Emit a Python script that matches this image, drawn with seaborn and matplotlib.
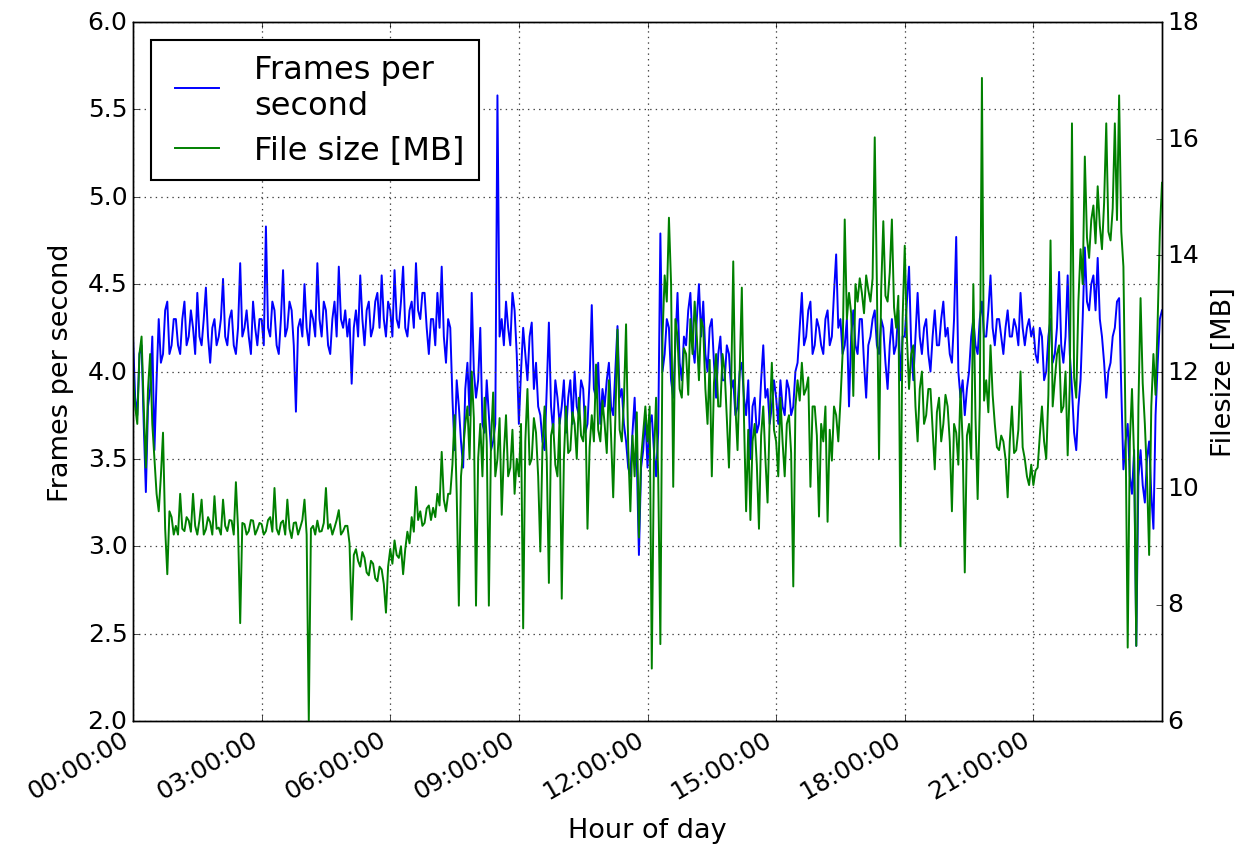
import numpy as np
import matplotlib
matplotlib.use("Agg")
import matplotlib.pyplot as plt
import seaborn as sns

plt.style.use("classic")
plt.rcParams["font.family"] = "DejaVu Sans"
plt.rcParams["axes.xmargin"] = 0

# one sample every 3 minutes, one row per hour of the day
sample_step_h = 0.05

fps = [
    4.20, 3.85, 3.75, 4.10, 4.15, 3.70, 3.31, 3.80, 3.90, 4.20, 3.55, 3.95, 4.30, 4.05, 4.10, 4.35, 4.40, 4.10, 4.15, 4.30,
    4.30, 4.15, 4.10, 4.30, 4.40, 4.15, 4.20, 4.35, 4.25, 4.10, 4.45, 4.20, 4.15, 4.30, 4.48, 4.20, 4.05, 4.25, 4.30, 4.15,
    4.20, 4.30, 4.53, 4.20, 4.15, 4.30, 4.35, 4.15, 4.10, 4.25, 4.62, 4.20, 4.25, 4.35, 4.20, 4.10, 4.40, 4.25, 4.15, 4.30,
    4.30, 4.15, 4.83, 4.25, 4.20, 4.40, 4.35, 4.15, 4.10, 4.30, 4.58, 4.20, 4.25, 4.40, 4.35, 4.15, 3.77, 4.25, 4.30, 4.20,
    4.50, 4.25, 4.15, 4.35, 4.30, 4.20, 4.62, 4.30, 4.20, 4.40, 4.35, 4.15, 4.10, 4.30, 4.40, 4.20, 4.60, 4.30, 4.25, 4.35,
    4.20, 4.30, 3.93, 4.25, 4.35, 4.20, 4.55, 4.30, 4.15, 4.35, 4.40, 4.20, 4.25, 4.40, 4.45, 4.25, 4.55, 4.30, 4.20, 4.40,
    4.35, 4.20, 4.58, 4.30, 4.25, 4.40, 4.60, 4.25, 4.20, 4.35, 4.40, 4.25, 4.62, 4.35, 4.30, 4.45, 4.45, 4.25, 4.10, 4.30,
    4.30, 4.15, 4.45, 4.25, 4.60, 4.20, 4.05, 4.30, 4.25, 3.85, 3.55, 3.95, 3.80, 3.60, 3.45, 3.90, 4.05, 3.75, 4.45, 4.00,
    3.85, 3.95, 4.25, 3.70, 3.65, 3.95, 3.75, 3.55, 3.60, 3.70, 5.58, 4.20, 4.30, 4.15, 4.40, 4.25, 4.15, 4.45, 4.35, 4.10,
    3.70, 4.00, 4.25, 4.10, 3.95, 4.20, 4.28, 3.90, 4.05, 3.80, 3.75, 3.60, 3.55, 3.90, 4.28, 3.80, 3.65, 3.95, 3.85, 3.70,
    3.80, 3.95, 3.65, 3.85, 3.95, 3.70, 4.00, 3.80, 3.75, 3.95, 3.90, 3.65, 3.70, 3.95, 4.38, 3.90, 3.85, 4.05, 3.70, 3.90,
    3.80, 3.95, 4.05, 3.80, 3.75, 4.00, 4.26, 3.85, 3.90, 3.70, 3.60, 3.45, 3.40, 3.65, 3.85, 3.50, 2.95, 3.45, 3.55, 3.75,
    3.45, 3.70, 3.75, 3.55, 3.40, 3.65, 4.79, 4.00, 4.10, 4.30, 4.25, 3.95, 3.85, 4.15, 4.45, 4.05, 3.95, 4.20, 4.15, 4.35,
    4.45, 4.15, 4.05, 4.30, 4.50, 4.20, 4.40, 4.10, 4.00, 4.25, 4.30, 4.05, 3.85, 4.10, 4.20, 3.95, 3.95, 4.15, 4.10, 3.90,
    3.95, 3.75, 3.80, 4.00, 4.05, 3.85, 3.75, 3.95, 3.50, 3.80, 3.85, 3.65, 3.70, 3.95, 4.15, 3.85, 3.90, 3.70, 3.80, 3.95,
    3.85, 3.70, 3.95, 3.80, 3.75, 3.95, 3.90, 3.75, 3.80, 4.00, 4.05, 4.25, 4.45, 4.15, 4.20, 4.35, 4.40, 4.10, 4.15, 4.30,
    4.25, 4.15, 4.10, 4.30, 4.35, 4.15, 4.20, 4.45, 4.67, 4.25, 4.30, 4.10, 4.15, 4.30, 3.80, 4.20, 4.35, 4.15, 4.10, 4.30,
    4.30, 4.05, 3.85, 4.15, 4.20, 4.30, 4.35, 4.15, 4.10, 4.30, 4.25, 4.05, 3.90, 4.15, 4.30, 4.10, 4.15, 4.35, 3.95, 4.20,
    4.20, 4.40, 4.60, 4.15, 3.95, 4.20, 4.45, 4.20, 4.10, 4.25, 4.30, 4.10, 4.00, 4.20, 4.35, 4.15, 4.15, 4.30, 4.40, 4.20,
    4.25, 4.10, 4.05, 4.30, 4.77, 4.00, 3.85, 3.95, 3.75, 3.90, 4.00, 4.20, 4.30, 4.15, 4.10, 4.30, 4.40, 4.20, 4.20, 4.35,
    4.55, 4.25, 4.15, 4.30, 4.30, 4.20, 4.10, 4.25, 4.35, 4.20, 4.20, 4.30, 4.25, 4.15, 4.45, 4.25, 4.15, 4.25, 4.30, 4.20,
    4.25, 4.10, 4.05, 4.25, 4.20, 3.95, 4.00, 4.20, 4.30, 4.05, 4.10, 4.25, 4.57, 4.15, 4.05, 4.20, 4.55, 4.10, 3.90, 3.65,
    3.55, 3.80, 3.95, 4.30, 4.71, 4.40, 4.35, 4.50, 4.55, 4.35, 4.65, 4.30, 4.20, 4.05, 3.85, 4.00, 4.05, 4.20, 4.25, 4.40,
    4.42, 3.90, 3.44, 3.60, 3.70, 3.40, 3.30, 3.55, 2.43, 3.40, 3.55, 3.35, 3.25, 3.50, 3.60, 3.30, 3.10, 3.75, 4.05, 4.30,
    4.35,
]

filesize_mb = [
    12.00, 11.40, 11.10, 12.30, 12.60, 11.40, 10.35, 11.70, 12.30, 11.10, 10.50, 9.90, 9.60, 10.20, 10.95, 9.30, 8.52, 9.60, 9.50, 9.20,
    9.35, 9.20, 9.90, 9.30, 9.26, 9.50, 9.44, 9.25, 9.90, 9.35, 9.20, 9.45, 9.80, 9.20, 9.29, 9.50, 9.41, 9.20, 9.86, 9.30,
    9.32, 9.20, 9.80, 9.35, 9.26, 9.45, 9.44, 9.20, 10.10, 9.30, 7.68, 9.40, 9.38, 9.20, 9.26, 9.45, 9.44, 9.20, 9.29, 9.40,
    9.38, 9.20, 9.26, 9.45, 9.50, 9.25, 10.00, 9.30, 9.20, 9.40, 9.44, 9.20, 9.80, 9.30, 9.14, 9.40, 9.41, 9.20, 9.32, 9.45,
    9.80, 9.20, 6.00, 9.30, 9.35, 9.20, 9.44, 9.25, 9.26, 9.40, 10.00, 9.30, 9.38, 9.20, 9.32, 9.45, 9.62, 9.20, 9.26, 9.35,
    9.35, 9.05, 7.74, 8.85, 8.95, 8.75, 8.65, 8.90, 8.80, 8.55, 8.50, 8.75, 8.70, 8.45, 8.40, 8.65, 8.60, 8.35, 7.86, 8.65,
    8.95, 8.70, 9.10, 8.85, 8.80, 9.00, 8.52, 8.95, 9.25, 9.05, 9.50, 9.25, 10.02, 9.45, 9.60, 9.35, 9.40, 9.65, 9.70, 9.45,
    9.66, 9.50, 9.90, 9.70, 10.62, 9.80, 9.60, 9.90, 9.90, 10.40, 11.25, 9.90, 7.98, 10.20, 10.65, 11.10, 11.40, 10.50, 12.00, 11.20,
    7.98, 10.50, 11.10, 10.20, 11.55, 10.80, 7.98, 10.80, 11.64, 10.20, 10.50, 11.20, 9.54, 10.60, 11.25, 10.20, 10.35, 11.00, 9.90, 10.50,
    10.20, 11.10, 7.59, 10.80, 11.70, 10.40, 10.50, 11.20, 10.95, 10.20, 8.91, 10.70, 11.40, 10.50, 8.37, 10.90, 11.10, 10.40, 10.20, 11.20,
    8.10, 10.50, 11.40, 10.60, 10.65, 11.30, 11.10, 10.50, 11.55, 10.90, 10.80, 11.40, 9.30, 10.70, 11.25, 10.80, 12.12, 11.00, 10.80, 11.50,
    11.10, 10.60, 11.85, 10.90, 9.84, 11.20, 12.72, 11.00, 10.80, 11.50, 12.81, 10.70, 9.60, 10.90, 10.20, 11.30, 9.15, 10.50, 10.95, 11.40,
    10.80, 11.40, 6.90, 10.50, 11.55, 10.20, 7.32, 12.60, 13.65, 13.20, 14.64, 13.50, 10.02, 12.90, 12.60, 11.70, 11.55, 12.40, 12.30, 11.60,
    12.90, 12.30, 13.20, 12.60, 11.85, 12.90, 12.75, 11.70, 11.10, 12.20, 10.20, 11.80, 12.30, 11.40, 11.40, 12.30, 12.00, 11.20, 10.35, 11.70,
    13.89, 11.40, 10.65, 12.00, 13.44, 11.20, 9.60, 11.00, 9.45, 10.80, 11.10, 10.40, 9.30, 10.90, 11.40, 10.50, 9.75, 11.20, 12.15, 11.00,
    10.80, 10.20, 11.55, 10.80, 10.20, 11.10, 11.25, 10.60, 8.31, 11.40, 11.85, 11.50, 12.15, 11.60, 11.70, 11.90, 10.02, 11.40, 11.40, 10.90,
    9.51, 11.10, 10.80, 11.40, 9.42, 11.00, 10.47, 11.40, 11.25, 10.80, 11.49, 12.30, 14.61, 12.90, 13.35, 13.00, 11.58, 13.50, 13.20, 13.60,
    13.35, 13.00, 13.65, 13.40, 13.20, 13.60, 16.02, 13.50, 10.50, 13.40, 14.58, 13.30, 13.20, 13.70, 14.61, 13.10, 12.75, 13.30, 9.00, 12.90,
    14.16, 12.60, 11.70, 12.30, 12.45, 11.40, 10.80, 11.70, 12.00, 11.10, 11.25, 11.70, 11.70, 11.00, 10.32, 11.30, 11.55, 10.80, 11.10, 11.60,
    11.40, 10.80, 9.60, 11.10, 10.95, 10.40, 11.70, 10.80, 8.55, 10.90, 11.10, 10.50, 13.50, 11.20, 9.81, 11.40, 17.04, 11.50, 11.85, 11.30,
    12.45, 11.60, 11.10, 10.70, 10.65, 10.90, 10.80, 10.50, 9.84, 10.80, 11.40, 10.60, 10.65, 11.00, 12.00, 10.70, 10.50, 10.20, 10.05, 10.40,
    10.05, 10.30, 10.35, 10.90, 11.40, 10.80, 10.50, 11.60, 14.25, 11.40, 11.85, 12.30, 12.45, 11.30, 11.40, 12.00, 10.56, 11.80, 16.26, 11.90,
    11.55, 13.20, 14.10, 13.50, 15.69, 14.30, 13.95, 14.60, 14.85, 14.20, 15.18, 14.50, 14.10, 14.90, 16.26, 14.40, 14.25, 14.80, 16.26, 14.60,
    16.74, 14.40, 13.80, 11.00, 7.26, 10.80, 11.70, 10.50, 7.29, 11.40, 13.26, 11.80, 11.10, 10.20, 8.85, 11.40, 12.30, 11.60, 12.90, 14.40,
    15.24,
]

tick_hours = [0, 3, 6, 9, 12, 15, 18, 21]
tick_labels = ["%02d:00:00" % h for h in tick_hours]

hours = np.arange(len(fps)) * sample_step_h

fig = plt.figure(figsize=(12.51, 8.62), dpi=100, facecolor="white")
ax = fig.add_axes([133 / 1251, 1 - 722 / 862, 1029 / 1251, 699 / 862])
ax2 = ax.twinx()

sns.lineplot(x=hours, y=fps, ax=ax, color="#0000ff", linewidth=1.4,
             label="Frames per\nsecond", legend=False)
sns.lineplot(x=np.arange(len(filesize_mb)) * sample_step_h, y=filesize_mb, ax=ax2,
             color="#008000", linewidth=1.4, label="File size [MB]", legend=False)

ax.set_xlim(0, 24.0)
ax.set_ylim(2.0, 6.0)
ax2.set_ylim(6, 18)
ax.set_yticks(np.arange(2.0, 6.01, 0.5))
ax2.set_yticks(np.arange(6, 19, 2))

ax.set_xticks(tick_hours)
ax.set_xticklabels(tick_labels, rotation=30, ha="right")
ax.tick_params(labelsize=18)
ax2.tick_params(labelsize=18)

ax.grid(True, color="0.25", linestyle=":", linewidth=0.9)
ax.set_xlabel("Hour of day", fontsize=19.5, labelpad=10)
ax.set_ylabel("Frames per second", fontsize=19.5, labelpad=10)
ax2.set_ylabel("Filesize [MB]", fontsize=19.5, labelpad=8)

handles = ax.get_lines()[:1] + ax2.get_lines()[:1]
leg = ax2.legend(handles, [h.get_label() for h in handles], loc="upper left",
                 fontsize=23, handlelength=2.0, handletextpad=0.8,
                 borderpad=0.45, labelspacing=0.45, fancybox=False,
                 borderaxespad=0.55)
leg.get_frame().set_edgecolor("black")
leg.get_frame().set_linewidth(1.5)

fig.savefig("out.png", dpi=100, facecolor="white")
